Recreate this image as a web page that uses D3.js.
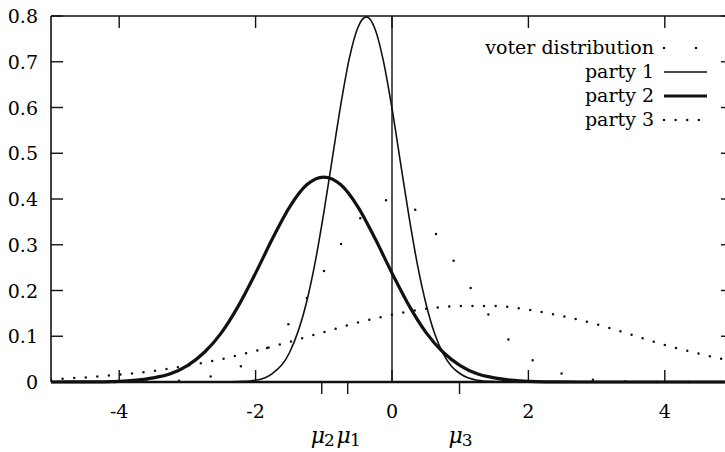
<!DOCTYPE html>
<html>
<head>
<meta charset="utf-8">
<script src="https://cdn.jsdelivr.net/npm/d3@7"></script>
<style>
  body { margin: 0; background: #fff; }
  svg { display: block; }
  text { font-family: "DejaVu Serif", "Liberation Serif", serif; }
</style>
</head>
<body>
<div id="chart"></div>
<script>
// values
const voterX = [-5, -4.75, -4.5, -4.25, -4, -3.75, -3.5, -3.25, -3, -2.75, -2.5, -2.25, -2, -1.75, -1.5, -1.25, -1, -0.75, -0.5, -0.25,
  0, 0.25, 0.5, 0.75, 1, 1.25, 1.5, 1.75, 2, 2.25, 2.5, 2.75, 3, 3.25, 3.5, 3.75, 4, 4.25, 4.5, 4.75, 5];
const voterY = [0, 0, 0, 0, 0.0001, 0.0004, 0.001, 0.002, 0.004, 0.009, 0.018, 0.032, 0.054, 0.086, 0.130, 0.183, 0.242, 0.301, 0.352, 0.387,
  0.399, 0.387, 0.352, 0.301, 0.242, 0.183, 0.130, 0.086, 0.054, 0.032, 0.018, 0.009, 0.004, 0.002, 0.001, 0.0004, 0.0001, 0, 0, 0, 0];

const party1X = [-5, -2.5, -2.25, -2, -1.75, -1.5, -1.25, -1.125, -1, -0.875, -0.75, -0.625, -0.5, -0.375, -0.25, -0.125,
  0, 0.125, 0.25, 0.375, 0.5, 0.625, 0.75, 0.875, 1, 1.25, 1.5, 1.75, 5];
const party1Y = [0, 0, 0.001, 0.004, 0.019, 0.065, 0.176, 0.263, 0.370, 0.489, 0.607, 0.708, 0.775, 0.798, 0.772, 0.701,
  0.598, 0.479, 0.361, 0.255, 0.170, 0.106, 0.062, 0.034, 0.018, 0.004, 0.001, 0, 0];

const party2X = [-5, -4.5, -4, -3.75, -3.5, -3.25, -3, -2.75, -2.5, -2.25, -2, -1.75, -1.5, -1.25, -1, -0.75, -0.5, -0.25,
  0, 0.25, 0.5, 0.75, 1, 1.25, 1.5, 1.75, 2, 2.5, 3, 5];
const party2Y = [0, 0.0002, 0.0015, 0.004, 0.009, 0.018, 0.036, 0.065, 0.108, 0.167, 0.238, 0.314, 0.383, 0.431, 0.448, 0.431, 0.383, 0.314,
  0.238, 0.167, 0.108, 0.065, 0.036, 0.018, 0.009, 0.004, 0.0015, 0.0002, 0, 0];

const party3X = [-5, -4.5, -4, -3.5, -3, -2.5, -2, -1.5, -1, -0.5, 0, 0.5, 1, 1.5, 2, 2.5, 3, 3.5, 4, 4.5, 5];
const party3Y = [0.006, 0.010, 0.016, 0.024, 0.036, 0.050, 0.068, 0.088, 0.109, 0.130, 0.147, 0.160, 0.166, 0.166, 0.158, 0.144, 0.126, 0.104, 0.081, 0.062, 0.045];

const xTicks = [-4, -2, 0, 2, 4];
const xTickLabels = ["-4", "-2", "0", "2", "4"];
const yTicks = [0, 0.1, 0.2, 0.3, 0.4, 0.5, 0.6, 0.7, 0.8];
const yTickLabels = ["0", "0.1", "0.2", "0.3", "0.4", "0.5", "0.6", "0.7", "0.8"];
const muTicks = [-1.03, -0.65, 0.99];
const muSubs = ["2", "1", "3"];
const legendNames = ["voter distribution", "party 1", "party 2", "party 3"];

const W = 725, H = 452;
const x = d3.scaleLinear().domain([-5, 5]).range([51, 733]);
const y = d3.scaleLinear().domain([0, 0.8]).range([382, 16]);

const svg = d3.select("#chart").append("svg")
  .attr("width", W).attr("height", H);

svg.append("defs").append("clipPath").attr("id", "plot")
  .append("rect").attr("x", 51).attr("y", 10).attr("width", 682).attr("height", 374);

const toPts = (xs, ys) => xs.map((v, i) => [v, ys[i]]);
const line = d3.line().x(d => x(d[0])).y(d => y(d[1])).curve(d3.curveMonotoneX);

const plot = svg.append("g").attr("clip-path", "url(#plot)");

// vertical line at 0
plot.append("line")
  .attr("x1", x(0)).attr("x2", x(0)).attr("y1", y(0)).attr("y2", y(0.8))
  .attr("stroke", "#111").attr("stroke-width", 1.4);

// voter distribution (sparse dots)
plot.append("path").attr("d", line(toPts(voterX, voterY)))
  .attr("fill", "none").attr("stroke", "#111").attr("stroke-width", 2.5)
  .attr("stroke-linecap", "round").attr("stroke-dasharray", "0 32");

// party 3 (dotted)
plot.append("path").attr("d", line(toPts(party3X, party3Y)))
  .attr("fill", "none").attr("stroke", "#111").attr("stroke-width", 2.5)
  .attr("stroke-linecap", "round").attr("stroke-dasharray", "0 11.6");

// party 1 (thin)
plot.append("path").attr("d", line(toPts(party1X, party1Y)))
  .attr("fill", "none").attr("stroke", "#111").attr("stroke-width", 1.6);

// party 2 (thick)
plot.append("path").attr("d", line(toPts(party2X, party2Y)))
  .attr("fill", "none").attr("stroke", "#111").attr("stroke-width", 3.2);

// frame
const frame = svg.append("g").attr("stroke", "#111").attr("fill", "none");
frame.append("line").attr("x1", x(-5)).attr("x2", x(5)).attr("y1", y(0.8)).attr("y2", y(0.8)).attr("stroke-width", 1.6);
frame.append("line").attr("x1", x(-5)).attr("x2", x(5)).attr("y1", y(0)).attr("y2", y(0)).attr("stroke-width", 2.6);
frame.append("line").attr("x1", x(-5)).attr("x2", x(-5)).attr("y1", y(0)).attr("y2", y(0.8)).attr("stroke-width", 1.6);
frame.append("line").attr("x1", x(5)).attr("x2", x(5)).attr("y1", y(0)).attr("y2", y(0.8)).attr("stroke-width", 1.6);

const tl = 12;
// x ticks, bottom (inward) and top (inward)
frame.selectAll(".xb").data(xTicks).enter().append("line")
  .attr("x1", d => x(d)).attr("x2", d => x(d)).attr("y1", y(0)).attr("y2", y(0) - tl).attr("stroke-width", 1.4);
frame.selectAll(".xt").data(xTicks).enter().append("line")
  .attr("x1", d => x(d)).attr("x2", d => x(d)).attr("y1", y(0.8)).attr("y2", y(0.8) + tl).attr("stroke-width", 1.4);
// y ticks, left and right (inward)
frame.selectAll(".yl").data(yTicks).enter().append("line")
  .attr("x1", x(-5)).attr("x2", x(-5) + tl).attr("y1", d => y(d)).attr("y2", d => y(d)).attr("stroke-width", 1.4);
frame.selectAll(".yr").data(yTicks).enter().append("line")
  .attr("x1", x(5)).attr("x2", x(5) - tl).attr("y1", d => y(d)).attr("y2", d => y(d)).attr("stroke-width", 1.4);
// mu ticks (outward, below)
frame.selectAll(".mu").data(muTicks).enter().append("line")
  .attr("x1", d => x(d)).attr("x2", d => x(d)).attr("y1", y(0)).attr("y2", y(0) + tl).attr("stroke-width", 1.4);

// tick labels
svg.selectAll(".xl").data(xTicks).enter().append("text")
  .attr("x", d => x(d)).attr("y", 418).attr("text-anchor", "middle")
  .attr("font-size", 19).attr("fill", "#000")
  .text((d, i) => xTickLabels[i]);
svg.selectAll(".ylab").data(yTicks).enter().append("text")
  .attr("x", 38).attr("y", d => y(d) + 7).attr("text-anchor", "end")
  .attr("font-size", 19).attr("fill", "#000")
  .text((d, i) => yTickLabels[i]);

// mu labels
const mu = svg.selectAll(".mul").data(muTicks).enter().append("text")
  .attr("x", d => x(d) + 1).attr("y", 443).attr("text-anchor", "middle")
  .attr("font-size", 22).attr("fill", "#000");
mu.append("tspan").attr("font-style", "italic").text("μ");
mu.append("tspan").attr("font-size", 17).attr("dy", 3).attr("dx", -1).text((d, i) => muSubs[i]);

// legend
const legendY = [48, 72, 96, 120];
const lg = svg.append("g");
lg.selectAll("text").data(legendNames).enter().append("text")
  .attr("x", 654).attr("y", (d, i) => legendY[i] + 6).attr("text-anchor", "end")
  .attr("font-size", 19).attr("fill", "#000").text(d => d);
const sample = i => `M664,${legendY[i]}H707`;
lg.append("path").attr("d", sample(0)).attr("stroke", "#111").attr("stroke-width", 2.5)
  .attr("stroke-linecap", "round").attr("stroke-dasharray", "0 32");
lg.append("path").attr("d", sample(1)).attr("stroke", "#111").attr("stroke-width", 1.6);
lg.append("path").attr("d", sample(2)).attr("stroke", "#111").attr("stroke-width", 3.2);
lg.append("path").attr("d", sample(3)).attr("stroke", "#111").attr("stroke-width", 2.5)
  .attr("stroke-linecap", "round").attr("stroke-dasharray", "0 11.6");
</script>
</body>
</html>
